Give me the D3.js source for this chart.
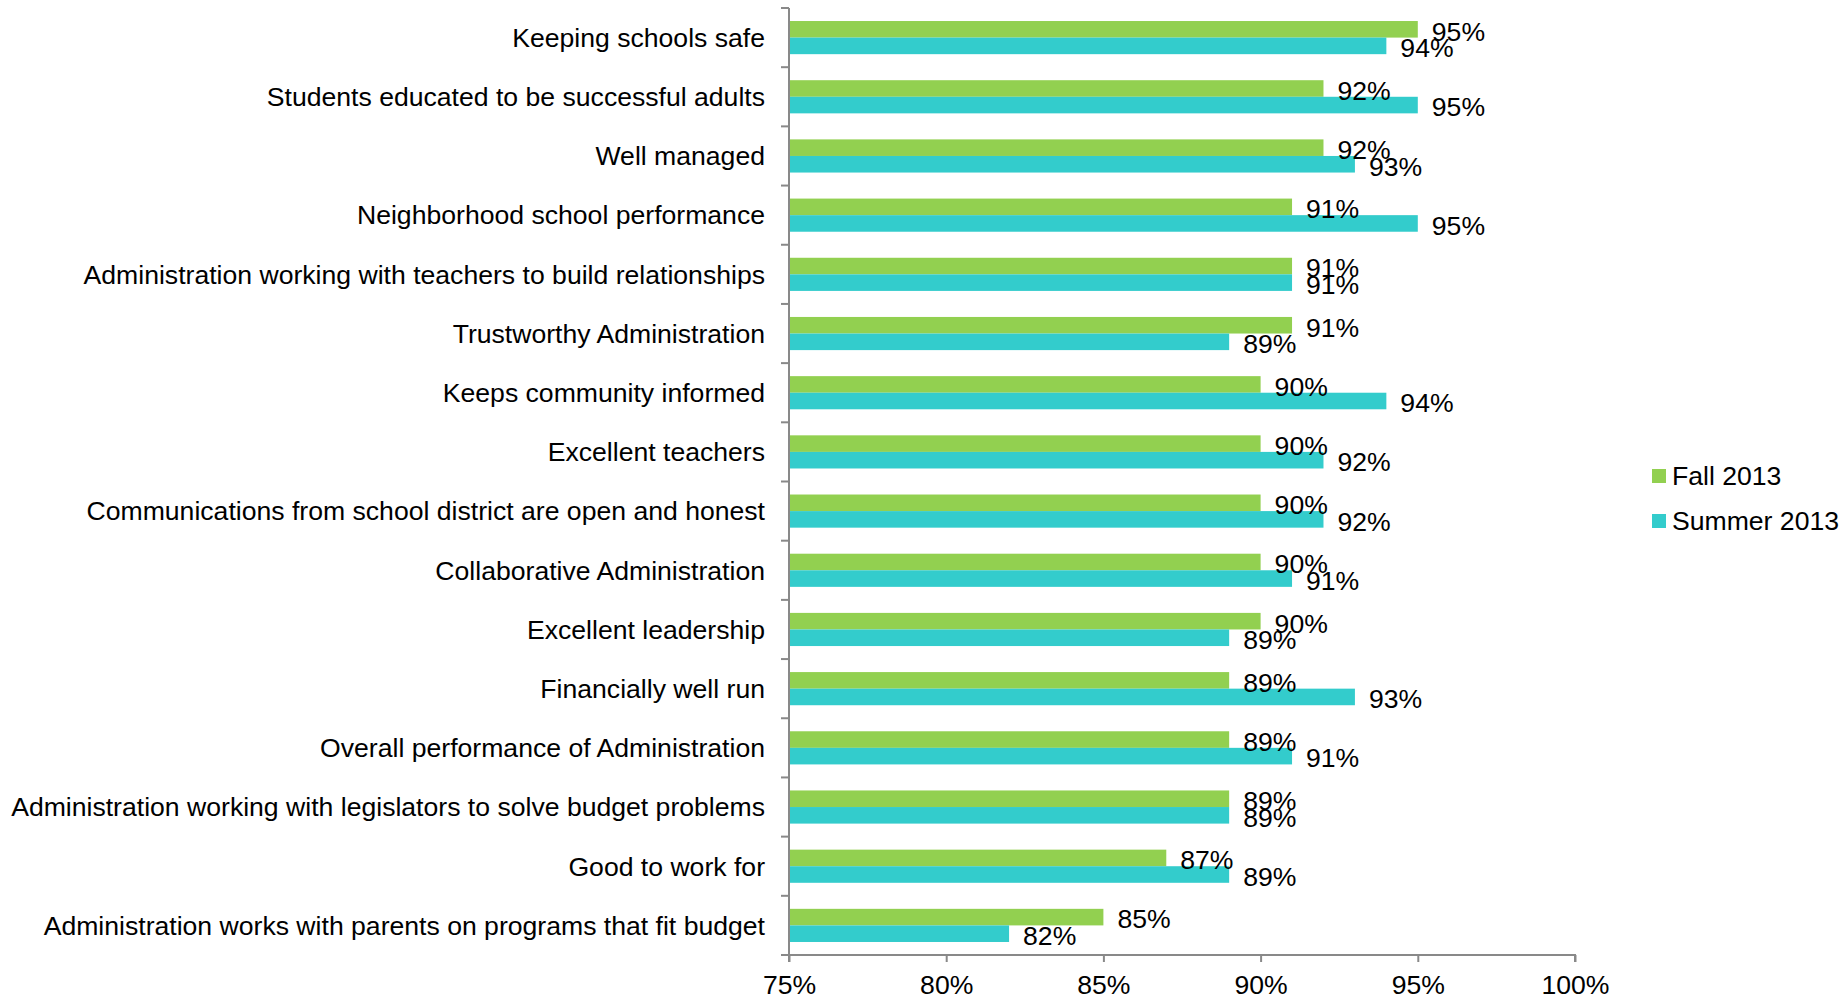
<!DOCTYPE html>
<html>
<head>
<meta charset="utf-8">
<script src="https://cdn.jsdelivr.net/npm/d3@7"></script>
<style>
  html, body { margin: 0; padding: 0; background: #fff; }
  svg { display: block; font-family: "Liberation Sans", Arial, sans-serif; }
</style>
</head>
<body>
<svg id="chart" width="1844" height="1000"></svg>
<script>
// Survey items, top to bottom
const categories = [
  "Keeping schools safe",
  "Students educated to be successful adults",
  "Well managed",
  "Neighborhood school performance",
  "Administration working with teachers to build relationships",
  "Trustworthy Administration",
  "Keeps community informed",
  "Excellent teachers",
  "Communications from school district are open and honest",
  "Collaborative Administration",
  "Excellent leadership",
  "Financially well run",
  "Overall performance of Administration",
  "Administration working with legislators to solve budget problems",
  "Good to work for",
  "Administration works with parents on programs that fit budget"
];
const seriesNames = ["Fall 2013", "Summer 2013"];
const fall2013 = [95, 92, 92, 91, 91, 91, 90, 90, 90, 90, 90, 89, 89, 89, 87, 85];
const summer2013 = [94, 95, 93, 95, 91, 89, 94, 92, 92, 91, 89, 93, 91, 89, 89, 82];
const xTicks = [75, 80, 85, 90, 95, 100];
const colors = ["#92D050", "#33CCCC"];

const svg = d3.select("#chart");
const plot = { left: 789, right: 1575, top: 8, bottom: 955 };
const axisColor = "#898989";
const fontSize = 26.6;

const x = d3.scaleLinear().domain([75, 100]).range([plot.left, plot.right]);
const y = d3.scaleBand().domain(categories).range([plot.top, plot.bottom]).paddingInner(0.44).paddingOuter(0.22);
const ySub = d3.scaleBand().domain(seriesNames).range([0, y.bandwidth()]);

const seriesValues = [fall2013, summer2013];
const rows = categories.map((c, i) => ({
  category: c,
  values: seriesNames.map((s, k) => ({ series: s, value: seriesValues[k][i], k }))
}));

// Bars
const groups = svg.append("g").selectAll("g")
  .data(rows).join("g")
  .attr("transform", d => `translate(0,${y(d.category)})`);

groups.selectAll("rect")
  .data(d => d.values).join("rect")
  .attr("x", x(75))
  .attr("y", d => ySub(d.series))
  .attr("width", d => x(d.value) - x(75))
  .attr("height", ySub.bandwidth())
  .attr("fill", d => colors[d.k]);

// Value labels
groups.selectAll("text")
  .data(d => d.values).join("text")
  .attr("x", d => x(d.value) + 14)
  .attr("y", d => ySub(d.series) + ySub.bandwidth() / 2 + 2)
  .attr("dy", "0.35em")
  .attr("font-size", fontSize)
  .attr("fill", "#000")
  .text(d => d.value + "%");

// Category axis
const yAxis = svg.append("g")
  .attr("transform", `translate(${plot.left},0)`);
yAxis.append("line")
  .attr("x1", 0).attr("x2", 0)
  .attr("y1", plot.top).attr("y2", plot.bottom)
  .attr("stroke", axisColor).attr("stroke-width", 2);
const yBoundaries = d3.range(categories.length + 1).map(i => plot.top + i * y.step());
yAxis.selectAll("line.tick")
  .data(yBoundaries).join("line")
  .attr("class", "tick")
  .attr("x1", -8).attr("x2", 0)
  .attr("y1", d => d).attr("y2", d => d)
  .attr("stroke", axisColor).attr("stroke-width", 2);
yAxis.selectAll("text")
  .data(categories).join("text")
  .attr("x", -24)
  .attr("y", d => y(d) + y.bandwidth() / 2)
  .attr("dy", "0.35em")
  .attr("text-anchor", "end")
  .attr("font-size", fontSize)
  .attr("fill", "#000")
  .text(d => d);

// Value axis
const xAxis = svg.append("g")
  .attr("transform", `translate(0,${plot.bottom})`)
  .call(d3.axisBottom(x).tickValues(xTicks).tickSize(7).tickPadding(13).tickFormat(d => d + "%"));
xAxis.select(".domain").attr("stroke", axisColor).attr("stroke-width", 2).attr("d", `M${plot.left},7V0H${plot.right}V7`);
xAxis.selectAll(".tick line").attr("stroke", axisColor).attr("stroke-width", 2);
xAxis.selectAll(".tick text")
  .attr("font-size", fontSize)
  .attr("font-family", "Liberation Sans, Arial, sans-serif")
  .attr("fill", "#000");

// Legend
const legend = svg.append("g").attr("transform", "translate(1652,0)");
const legendY = [476, 521];
seriesNames.forEach((s, k) => {
  legend.append("rect")
    .attr("x", 0).attr("y", legendY[k] - 7)
    .attr("width", 14).attr("height", 14)
    .attr("fill", colors[k]);
  legend.append("text")
    .attr("x", 20).attr("y", legendY[k])
    .attr("dy", "0.35em")
    .attr("font-size", fontSize)
    .attr("fill", "#000")
    .text(s);
});
</script>
</body>
</html>
